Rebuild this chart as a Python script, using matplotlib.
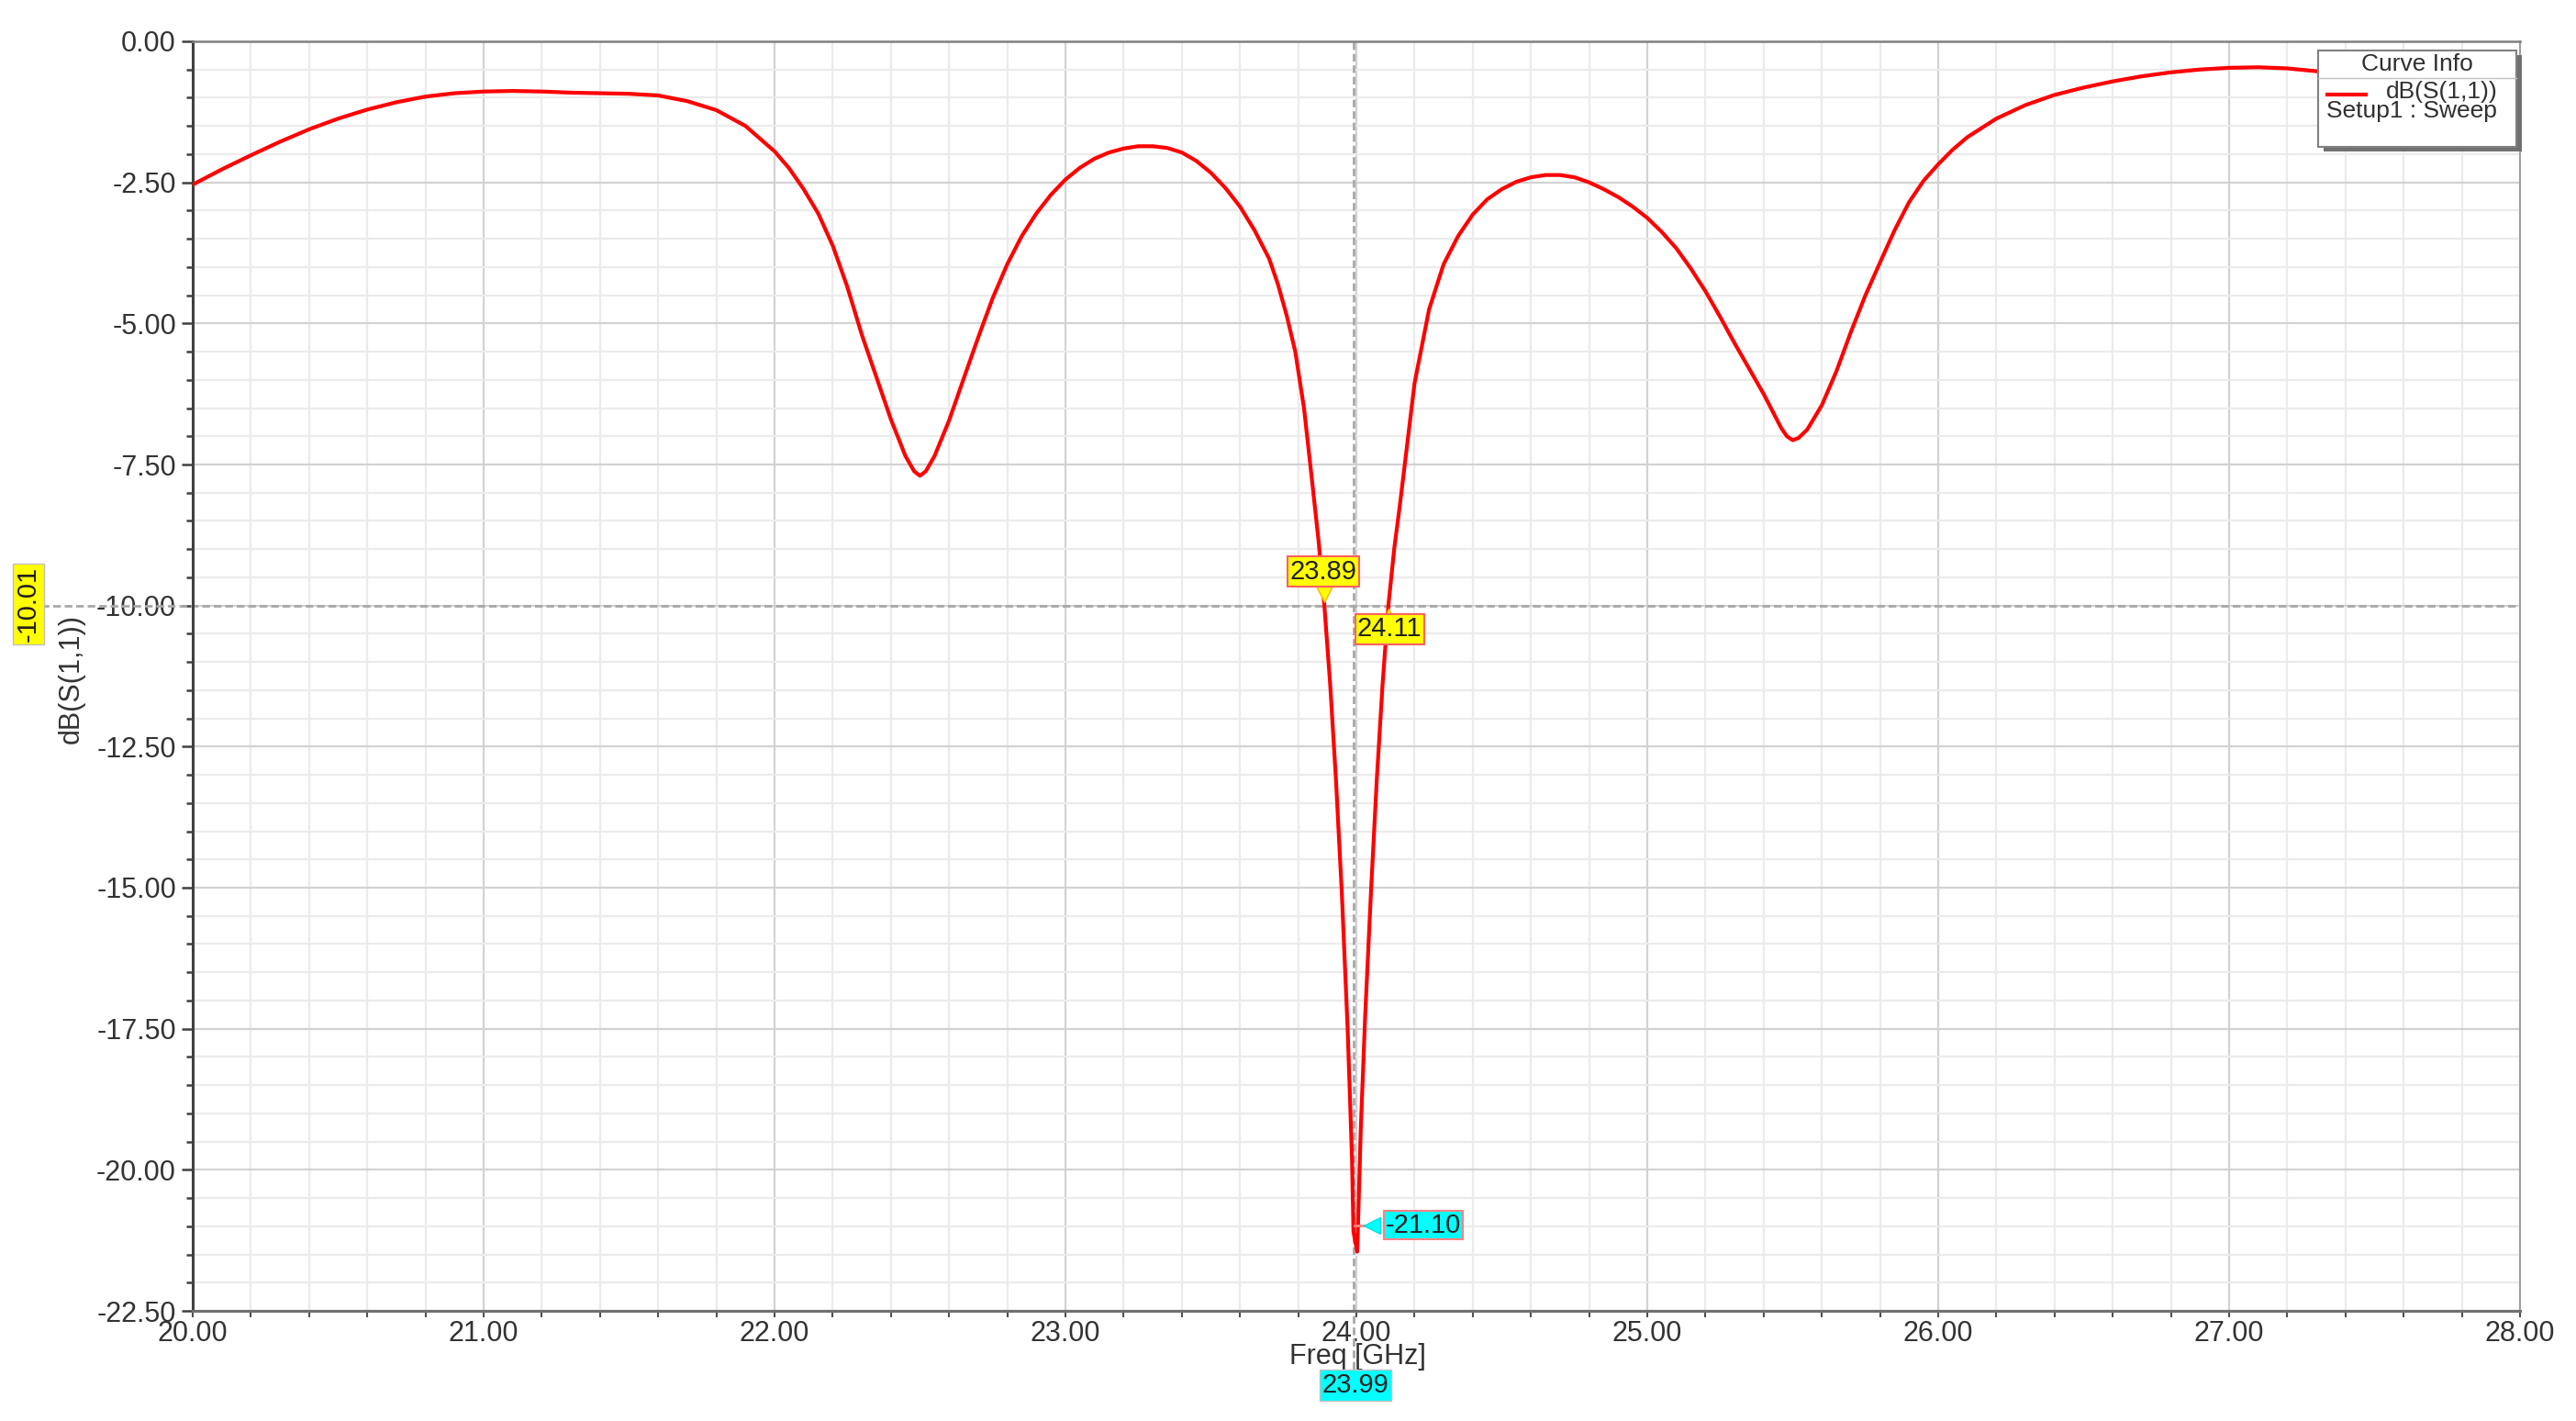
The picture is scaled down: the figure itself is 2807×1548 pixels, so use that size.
import numpy as np
import matplotlib.pyplot as plt
from matplotlib.patches import Rectangle
from matplotlib.lines import Line2D
from matplotlib.ticker import MultipleLocator, FormatStrFormatter

# S11 (GHz, dB)
freq = [20.00, 20.10, 20.20, 20.30, 20.40, 20.50, 20.60, 20.70, 20.80, 20.90,
        21.00, 21.10, 21.20, 21.30, 21.40, 21.50, 21.60, 21.70, 21.80, 21.90,
        22.00, 22.05, 22.10, 22.15, 22.20, 22.25, 22.30, 22.35, 22.40, 22.45,
        22.48, 22.50, 22.52, 22.55, 22.60, 22.65, 22.70, 22.75, 22.80, 22.85,
        22.90, 22.95, 23.00, 23.05, 23.10, 23.15, 23.20, 23.25, 23.30, 23.35,
        23.40, 23.45, 23.50, 23.55, 23.60, 23.65, 23.70, 23.73, 23.76, 23.79,
        23.82, 23.85, 23.87, 23.89, 23.91, 23.93, 23.95, 23.97, 23.985, 23.99,
        24.003, 24.015, 24.03, 24.05, 24.07, 24.09, 24.11, 24.13, 24.15, 24.20,
        24.25, 24.30, 24.35, 24.40, 24.45, 24.50, 24.55, 24.60, 24.65, 24.70,
        24.75, 24.80, 24.85, 24.90, 24.95, 25.00, 25.05, 25.10, 25.15, 25.20,
        25.25, 25.30, 25.35, 25.40, 25.43, 25.46, 25.48, 25.50, 25.52, 25.55,
        25.60, 25.65, 25.70, 25.75, 25.80, 25.85, 25.90, 25.95, 26.00, 26.05,
        26.10, 26.20, 26.30, 26.40, 26.50, 26.60, 26.70, 26.80, 26.90, 27.00,
        27.10, 27.20, 27.30, 27.40, 27.50, 27.70, 28.00]
s11 = [-2.54, -2.27, -2.02, -1.78, -1.56, -1.37, -1.21, -1.08, -0.98, -0.92,
       -0.89, -0.88, -0.89, -0.91, -0.92, -0.93, -0.96, -1.06, -1.22, -1.50,
       -1.95, -2.25, -2.62, -3.05, -3.62, -4.35, -5.20, -5.95, -6.70, -7.35,
       -7.62, -7.70, -7.62, -7.35, -6.72, -5.98, -5.25, -4.55, -3.95, -3.45,
       -3.05, -2.72, -2.45, -2.24, -2.08, -1.97, -1.90, -1.86, -1.86, -1.89,
       -1.97, -2.12, -2.33, -2.60, -2.93, -3.35, -3.85, -4.30, -4.85, -5.50,
       -6.50, -7.90, -8.85, -10.00, -11.40, -13.10, -15.10, -17.50, -19.80, -21.10,
       -21.45, -19.30, -17.30, -15.10, -13.10, -11.40, -10.00, -9.00, -8.20, -6.06,
       -4.75, -3.95, -3.45, -3.07, -2.80, -2.62, -2.49, -2.41, -2.37, -2.37,
       -2.41, -2.50, -2.62, -2.76, -2.93, -3.13, -3.38, -3.67, -4.03, -4.43,
       -4.88, -5.35, -5.80, -6.25, -6.55, -6.85, -7.00, -7.07, -7.03, -6.88,
       -6.45, -5.85, -5.15, -4.50, -3.92, -3.35, -2.85, -2.47, -2.18, -1.92,
       -1.70, -1.37, -1.13, -0.95, -0.82, -0.71, -0.62, -0.55, -0.50, -0.47,
       -0.46, -0.48, -0.53, -0.58, -0.62, -0.70, -0.80]

marker_lo = 23.89
marker_hi = 24.11
min_freq = 23.99
min_db = -21.10
cursor_db = -10.01

plt.rcParams['font.family'] = ['Liberation Sans', 'DejaVu Sans']

W, H = 2807, 1548
fig = plt.figure(figsize=(W / 100, H / 100), dpi=100)


def fx(px):
    return px / W


def fy(py):
    return 1 - py / H


ax = fig.add_axes([fx(210), fy(1428), (2746 - 210) / W, (1428 - 45) / H])
ax.plot(freq, s11, color='#ff0000', lw=3, zorder=5, solid_joinstyle='round')
ax.set_xlim(20, 28)
ax.set_ylim(-22.5, 0)

ax.xaxis.set_major_locator(MultipleLocator(1))
ax.xaxis.set_minor_locator(MultipleLocator(0.2))
ax.yaxis.set_major_locator(MultipleLocator(2.5))
ax.yaxis.set_minor_locator(MultipleLocator(0.5))
ax.xaxis.set_major_formatter(FormatStrFormatter('%.2f'))
ax.yaxis.set_major_formatter(FormatStrFormatter('%.2f'))

ax.grid(which='major', color='#d2d2d2', lw=1.6)
ax.grid(which='minor', color='#ebebeb', lw=1.6)
ax.set_axisbelow(True)

ax.tick_params(axis='y', which='major', length=9, width=1.8, color='#404040',
               labelsize=22, labelcolor='#333333', pad=4)
ax.tick_params(axis='y', which='minor', length=5, width=1.8, color='#404040')
ax.tick_params(axis='x', which='major', length=5, width=1.5, color='#505050',
               labelsize=22, labelcolor='#333333', pad=2)
ax.tick_params(axis='x', which='minor', length=5, width=1.5, color='#505050')

ax.spines['left'].set_color('#404040')
ax.spines['left'].set_linewidth(2.2)
ax.spines['bottom'].set_color('#707070')
ax.spines['bottom'].set_linewidth(2.2)
ax.spines['top'].set_color('#808080')
ax.spines['top'].set_linewidth(1.8)
ax.spines['right'].set_color('#a0a0a0')
ax.spines['right'].set_linewidth(1.5)

# cursor lines
ax.axvline(min_freq, ymin=-0.055, ymax=1, color='#a8a8a8', lw=2,
           ls=(0, (3, 1.5)), clip_on=False, zorder=2)
ax.axhline(cursor_db, xmin=-0.065, xmax=1, color='#a8a8a8', lw=2,
           ls=(0, (3, 1.5)), clip_on=False, zorder=2)

# markers at -10 dB crossings
ax.plot(marker_lo, -9.78, marker='v', ms=15, color='#ffff00', mec='#ffb000', mew=1, zorder=6)
ax.text(23.886, -9.40, f'{marker_lo:.2f}', ha='center', va='center', fontsize=21,
        color='#202020', zorder=7,
        bbox=dict(boxstyle='square,pad=0.08', fc='#ffff00', ec='#ff6060', lw=1.5))
ax.plot(marker_hi, -10.22, marker='^', ms=15, color='#ffff00', mec='#ffb000', mew=1, zorder=6)
ax.text(24.114, -10.42, f'{marker_hi:.2f}', ha='center', va='center', fontsize=21,
        color='#202020', zorder=7,
        bbox=dict(boxstyle='square,pad=0.08', fc='#ffff00', ec='#ff6060', lw=1.5))

# minimum marker
ax.plot([min_freq + 0.005, 24.05], [-20.98, -20.98], color='#ff8080', lw=2, zorder=6)
ax.plot(24.055, -20.98, marker='<', ms=13, color='#00ffff', mec='#00e0e0', zorder=6)
ax.text(24.23, -20.98, f'{min_db:.2f}', ha='center', va='center', fontsize=21,
        color='#202020', zorder=7,
        bbox=dict(boxstyle='square,pad=0.06', fc='#00ffff', ec='#ff8080', lw=1.5))

# axis labels
fig.text(fx(1479), fy(1478), 'Freq [GHz]', ha='center', va='center', fontsize=22, color='#333333')
fig.text(fx(78), fy(740), 'dB(S(1,1))', ha='center', va='center', rotation=90,
         fontsize=22, color='#333333')

# cursor read-outs
fig.text(fx(1477), fy(1509), f'{min_freq:.2f}', ha='center', va='center', fontsize=21,
         color='#202020', bbox=dict(boxstyle='square,pad=0.1', fc='#00ffff', ec='#c0c0c0', lw=1))
fig.text(fx(31), fy(658), f'{cursor_db:.2f}', ha='center', va='center', rotation=90,
         fontsize=21, color='#202020',
         bbox=dict(boxstyle='square,pad=0.1', fc='#ffff00', ec='#c0c0c0', lw=1))

# legend box "Curve Info"
fig.add_artist(Rectangle((fx(2532), fy(165)), (2748 - 2532) / W, (165 - 60) / H,
                         transform=fig.transFigure, fc='#707070', ec='none', zorder=8))
fig.add_artist(Rectangle((fx(2526), fy(160)), (2742 - 2526) / W, (160 - 55) / H,
                         transform=fig.transFigure, fc='white', ec='#808080', lw=1.5, zorder=9))
fig.add_artist(Line2D([fx(2526), fx(2742)], [fy(85), fy(85)], transform=fig.transFigure,
                      color='#c0c0c0', lw=1, zorder=10))
fig.text(fx(2634), fy(70), 'Curve Info', ha='center', va='center', fontsize=19,
         color='#303030', zorder=10)
fig.add_artist(Line2D([fx(2536), fx(2578)], [fy(103), fy(103)], transform=fig.transFigure,
                      color='#ff0000', lw=3, zorder=10))
fig.text(fx(2722), fy(100), 'dB(S(1,1))', ha='right', va='center', fontsize=19,
         color='#303030', zorder=10)
fig.text(fx(2535), fy(121), 'Setup1 : Sweep', ha='left', va='center', fontsize=19,
         color='#303030', zorder=10)

fig.savefig('out.png', dpi=100, facecolor='white')
